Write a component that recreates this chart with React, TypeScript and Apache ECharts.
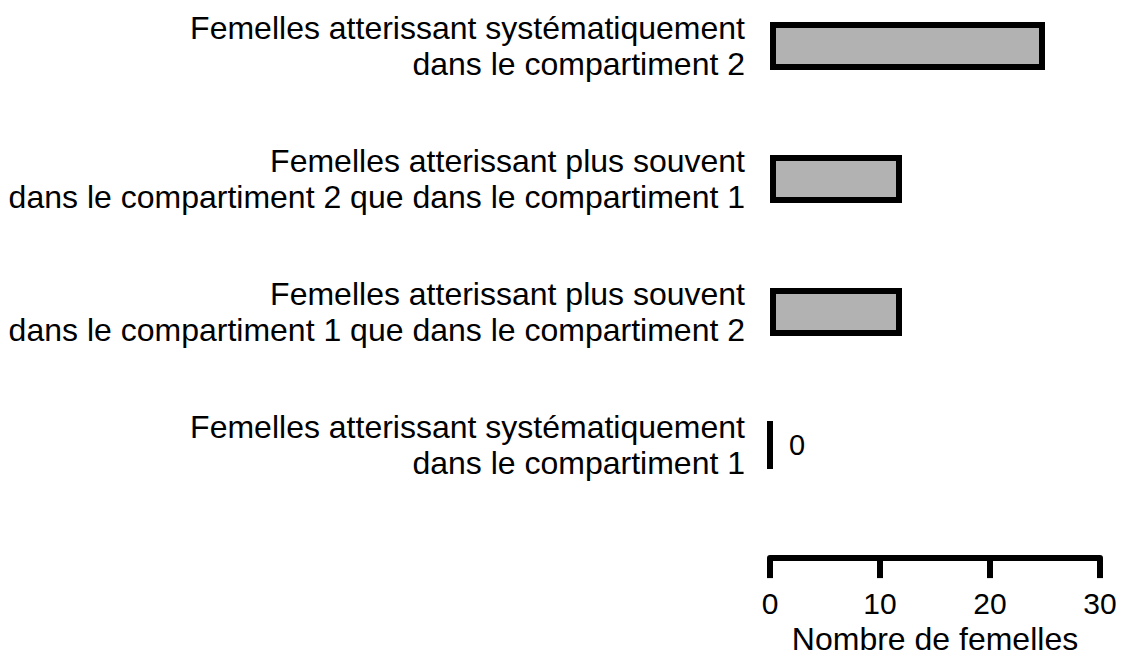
import React, { useEffect, useRef } from "react";
import * as echarts from "echarts";

const categories: string[] = [
  "Femelles atterissant systématiquement\ndans le compartiment 2",
  "Femelles atterissant plus souvent\ndans le compartiment 2 que dans le compartiment 1",
  "Femelles atterissant plus souvent\ndans le compartiment 1 que dans le compartiment 2",
  "Femelles atterissant systématiquement\ndans le compartiment 1",
];
const values: number[] = [25, 12, 12, 0];
const xTicks: number[] = [0, 10, 20, 30];
const xAxisName = "Nombre de femelles";

const FONT = "'Liberation Sans', Arial, Helvetica, sans-serif";

export default function App() {
  const ref = useRef<HTMLDivElement>(null);
  useEffect(() => {
    document.body.style.margin = "0";
    if (!ref.current) return;
    const chart = echarts.init(ref.current, null, { renderer: "svg" });
    chart.setOption({
      animation: false,
      backgroundColor: "#ffffff",
      textStyle: { fontFamily: FONT },
      grid: { left: 770, width: 330, top: 46, height: 404, containLabel: false },
      xAxis: {
        type: "value",
        min: xTicks[0],
        max: xTicks[xTicks.length - 1],
        interval: 10,
        offset: 113,
        splitLine: { show: false },
        axisLine: { show: true, lineStyle: { color: "#000", width: 6 } },
        axisTick: { show: true, length: 20, lineStyle: { color: "#000", width: 6 } },
        axisLabel: { color: "#000", fontSize: 30, fontFamily: FONT, margin: 30 },
        name: xAxisName,
        nameLocation: "middle",
        nameGap: 60,
        nameTextStyle: { color: "#000", fontSize: 32, fontFamily: FONT },
      },
      yAxis: {
        type: "category",
        data: categories,
        inverse: true,
        boundaryGap: false,
        axisLine: { show: false },
        axisTick: { show: false },
        splitLine: { show: false },
        axisLabel: {
          color: "#000",
          fontSize: 32,
          lineHeight: 36,
          fontFamily: FONT,
          margin: 25,
          align: "right",
        },
      },
      series: [
        {
          type: "bar",
          barWidth: 48,
          data: values.map((v, i) => ({
            value: v,
            label: {
              show: i === values.length - 1,
              position: "right",
              distance: 16,
              color: "#000",
              fontSize: 29,
              fontFamily: FONT,
              formatter: "{c}",
            },
          })),
          itemStyle: { color: "#b2b2b2", borderColor: "#000", borderWidth: 6 },
        },
      ],
    });
    return () => chart.dispose();
  }, []);
  return <div ref={ref} style={{ width: 1125, height: 660 }} />;
}
